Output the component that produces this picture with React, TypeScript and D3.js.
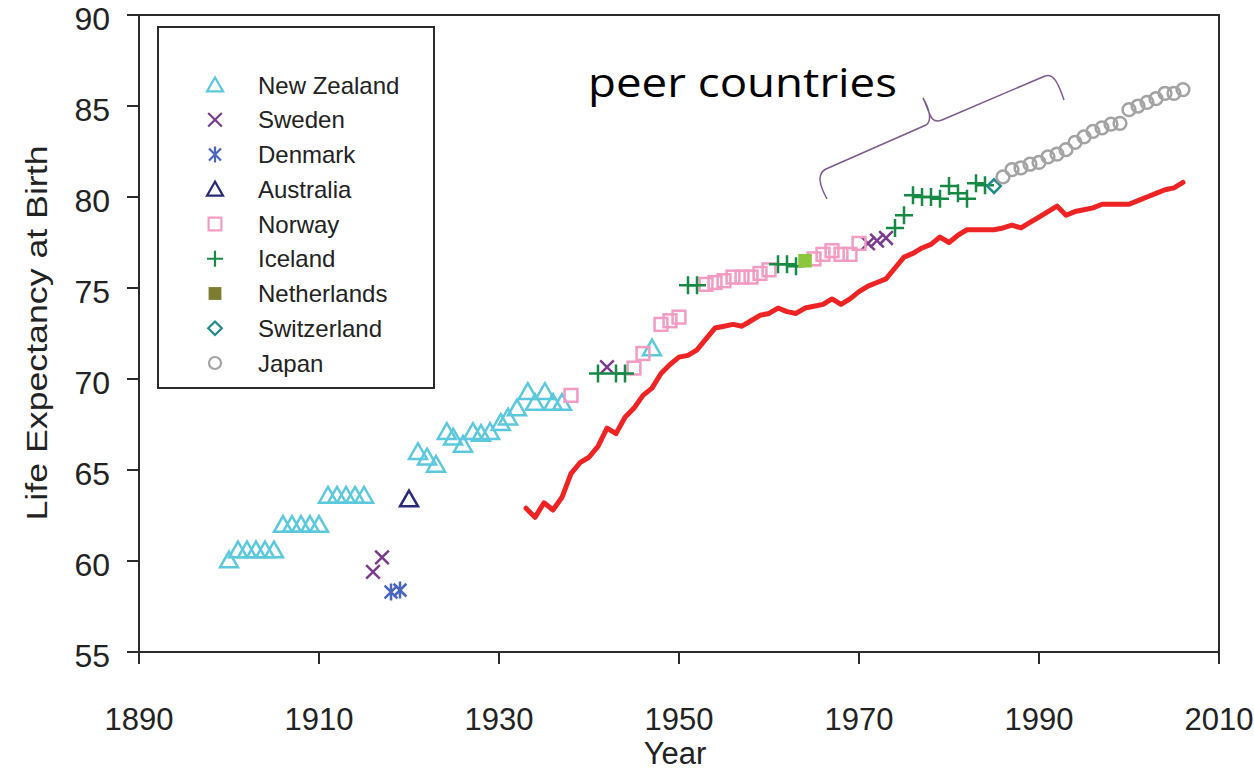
import React from "react";
import * as d3 from "d3";

// ---------- data ----------
const xTicks = [1890, 1910, 1930, 1950, 1970, 1990, 2010];
const yTicks = [55, 60, 65, 70, 75, 80, 85, 90];

const nzYears = [1900, 1901, 1902, 1903, 1904, 1905, 1906, 1907, 1908, 1909, 1910, 1911, 1912, 1913, 1914, 1915,
  1921, 1922, 1923, 1924.2, 1924.9, 1926, 1927.1, 1928, 1929, 1930.2, 1931, 1932, 1933.2, 1934, 1935.1, 1936, 1937, 1947];
const nzValues = [60.05, 60.6, 60.6, 60.6, 60.6, 60.6, 62.0, 62.0, 62.0, 62.0, 62.0, 63.6, 63.6, 63.6, 63.6, 63.6,
  66.0, 65.7, 65.3, 67.1, 66.8, 66.4, 67.1, 67.0, 67.1, 67.6, 67.9, 68.4, 69.3, 68.7, 69.3, 68.7, 68.7, 71.7];

const swedenYears = [1916, 1917, 1942, 1971, 1972, 1973];
const swedenValues = [59.4, 60.2, 70.65, 77.45, 77.6, 77.75];

const denmarkYears = [1918, 1919];
const denmarkValues = [58.3, 58.4];

const australiaYears = [1920];
const australiaValues = [63.4];

const norwayYears = [1938, 1945, 1946, 1948, 1949, 1950, 1953, 1954, 1955, 1956, 1957, 1958, 1959, 1960,
  1965, 1966, 1967, 1968, 1969, 1970];
const norwayValues = [69.1, 70.6, 71.4, 73.0, 73.2, 73.4, 75.2, 75.3, 75.4, 75.6, 75.6, 75.6, 75.8, 76.0,
  76.6, 76.85, 77.05, 76.85, 76.85, 77.45];

const icelandYears = [1941, 1943, 1944, 1951, 1952, 1961, 1962, 1963,
  1974, 1975, 1976, 1977, 1978, 1979, 1980, 1981, 1982, 1983, 1984];
const icelandValues = [70.3, 70.3, 70.3, 75.15, 75.15, 76.3, 76.3, 76.2,
  78.3, 79.0, 80.1, 80.0, 80.0, 79.9, 80.6, 80.2, 79.9, 80.75, 80.65];

const netherlandsYears = [1964];
const netherlandsValues = [76.5];

const switzerlandYears = [1985];
const switzerlandValues = [80.6];

const japanYears = [1986, 1987, 1988, 1989, 1990, 1991, 1992, 1993, 1994, 1995, 1996, 1997, 1998, 1999, 2000,
  2001, 2002, 2003, 2004, 2005, 2006];
const japanValues = [81.1, 81.5, 81.6, 81.8, 81.9, 82.2, 82.35, 82.6, 83.0, 83.3, 83.6, 83.8, 84.0, 84.05, 84.8,
  85.0, 85.2, 85.4, 85.7, 85.7, 85.9];

const usYears = [1933, 1934, 1935, 1936, 1937, 1938, 1939, 1940, 1941, 1942, 1943, 1944, 1945, 1946, 1947, 1948,
  1949, 1950, 1951, 1952, 1953, 1954, 1955, 1956, 1957, 1958, 1959, 1960, 1961, 1962, 1963, 1964, 1965, 1966,
  1967, 1968, 1969, 1970, 1971, 1972, 1973, 1974, 1975, 1976, 1977, 1978, 1979, 1980, 1981, 1982, 1983, 1984,
  1985, 1986, 1987, 1988, 1989, 1990, 1991, 1992, 1993, 1994, 1995, 1996, 1997, 1998, 1999, 2000, 2001, 2002,
  2003, 2004, 2005, 2006];
const usValues = [62.9, 62.4, 63.2, 62.8, 63.5, 64.8, 65.4, 65.7, 66.3, 67.3, 67.0, 67.9, 68.4, 69.1, 69.5, 70.3,
  70.8, 71.2, 71.3, 71.6, 72.2, 72.8, 72.9, 73.0, 72.9, 73.2, 73.5, 73.6, 73.9, 73.7, 73.6, 73.9, 74.0, 74.1,
  74.4, 74.1, 74.4, 74.8, 75.1, 75.3, 75.5, 76.1, 76.7, 76.9, 77.2, 77.4, 77.8, 77.5, 77.9, 78.2, 78.2, 78.2,
  78.2, 78.3, 78.45, 78.3, 78.6, 78.9, 79.2, 79.5, 79.0, 79.2, 79.3, 79.4, 79.6, 79.6, 79.6, 79.6, 79.8, 80.0,
  80.2, 80.4, 80.5, 80.8];

const legendNames = ["New Zealand", "Sweden", "Denmark", "Australia", "Norway", "Iceland", "Netherlands", "Switzerland", "Japan"];
const legendShapes = ["triangle", "x", "asterisk", "triangle", "square", "plus", "filledSquare", "diamond", "circle"];
const legendColors = ["#5cc8dc", "#7a3b8c", "#4a66bd", "#2a2a78", "#f29bc3", "#168a45", "#7d7d32", "#1f8a8a", "#a3a3a3"];

// ---------- helpers ----------
const W = 1254;
const H = 771;
const x = d3.scaleLinear().domain([1890, 2010]).range([139, 1219]);
const y = d3.scaleLinear().domain([55, 90]).range([652, 15]);

function Marker({ shape, cx, cy, s, color, sw = 2.5 }: any) {
  const h = s / 2;
  if (shape === "triangle") {
    const p = d3.path();
    p.moveTo(cx, cy - h * 0.95);
    p.lineTo(cx + h, cy + h * 0.8);
    p.lineTo(cx - h, cy + h * 0.8);
    p.closePath();
    return <path d={p.toString()} fill="none" stroke={color} strokeWidth={sw} strokeLinejoin="miter" />;
  }
  if (shape === "x") {
    const k = h * 0.85;
    return <path d={`M${cx - k},${cy - k}L${cx + k},${cy + k}M${cx - k},${cy + k}L${cx + k},${cy - k}`} stroke={color} strokeWidth={sw} fill="none" />;
  }
  if (shape === "asterisk") {
    const k = h * 0.75;
    return <path d={`M${cx - k},${cy - k}L${cx + k},${cy + k}M${cx - k},${cy + k}L${cx + k},${cy - k}M${cx},${cy - h}L${cx},${cy + h}`} stroke={color} strokeWidth={sw} fill="none" />;
  }
  if (shape === "plus") {
    return <path d={`M${cx - h},${cy}L${cx + h},${cy}M${cx},${cy - h}L${cx},${cy + h}`} stroke={color} strokeWidth={sw} fill="none" />;
  }
  if (shape === "square") {
    const k = h * 0.8;
    return <rect x={cx - k} y={cy - k} width={2 * k} height={2 * k} fill="none" stroke={color} strokeWidth={sw} />;
  }
  if (shape === "filledSquare") {
    const k = h * 0.8;
    return <rect x={cx - k} y={cy - k} width={2 * k} height={2 * k} fill={color} stroke="none" />;
  }
  if (shape === "diamond") {
    const k = h * 0.85;
    return <path d={`M${cx},${cy - k}L${cx + k},${cy}L${cx},${cy + k}L${cx - k},${cy}Z`} fill="none" stroke={color} strokeWidth={sw} />;
  }
  // circle
  return <circle cx={cx} cy={cy} r={h * 0.75} fill="none" stroke={color} strokeWidth={sw} />;
}

function Series({ years, values, shape, color, s = 16 }: any) {
  return (
    <g>
      {years.map((yr: number, i: number) => (
        <Marker key={i} shape={shape} cx={x(yr)} cy={y(values[i])} s={s} color={color} />
      ))}
    </g>
  );
}

export default function App() {
  const usLine = d3
    .line<number>()
    .x((_, i) => x(usYears[i]))
    .y((v) => y(v))
    .curve(d3.curveLinear)(usValues) as string;

  const font = "'Liberation Sans', Arial, Helvetica, sans-serif";
  const axisColor = "#2b2b2b";

  return (
    <svg width={W} height={H} style={{ position: "absolute", left: 0, top: 0 }} viewBox={`0 0 ${W} ${H}`}>
      <rect x={0} y={0} width={W} height={H} fill="#ffffff" />

      {/* frame */}
      <rect x={x(1890)} y={y(90)} width={x(2010) - x(1890)} height={y(55) - y(90)} fill="none" stroke={axisColor} strokeWidth={2} />

      {/* y axis ticks */}
      {yTicks.map((t) => (
        <g key={t}>
          <line x1={x(1890) - 12} x2={x(1890)} y1={y(t)} y2={y(t)} stroke={axisColor} strokeWidth={2} />
          <text x={110} y={y(t) + 15} textAnchor="end" fontFamily={font} fontSize={32} fill="#222">
            {t}
          </text>
        </g>
      ))}
      {/* x axis ticks */}
      {xTicks.map((t) => (
        <g key={t}>
          <line x1={x(t)} x2={x(t)} y1={y(55)} y2={y(55) + 12} stroke={axisColor} strokeWidth={2} />
          <text x={x(t)} y={730} textAnchor="middle" fontFamily={font} fontSize={31} fill="#222">
            {t}
          </text>
        </g>
      ))}
      <text x={675} y={764} textAnchor="middle" fontFamily={font} fontSize={31} fill="#222">
        Year
      </text>
      <text
        transform={`translate(37,333) rotate(-90)`}
        textAnchor="middle"
        dominantBaseline="central"
        fontFamily={font}
        fontSize={29}
        fill="#222"
        textLength={375}
        lengthAdjust="spacingAndGlyphs"
      >
        Life Expectancy at Birth
      </text>

      {/* data */}
      <Series years={nzYears} values={nzValues} shape="triangle" color={legendColors[0]} s={18} />
      <Series years={swedenYears} values={swedenValues} shape="x" color={legendColors[1]} s={16} />
      <Series years={denmarkYears} values={denmarkValues} shape="asterisk" color={legendColors[2]} s={17} />
      <Series years={australiaYears} values={australiaValues} shape="triangle" color={legendColors[3]} s={18} />
      <Series years={norwayYears} values={norwayValues} shape="square" color={legendColors[4]} s={16} />
      <Series years={icelandYears} values={icelandValues} shape="plus" color={legendColors[5]} s={18} />
      <Series years={netherlandsYears} values={netherlandsValues} shape="filledSquare" color="#8cc63f" s={17} />
      <Series years={switzerlandYears} values={switzerlandValues} shape="diamond" color={legendColors[7]} s={16} />
      <Series years={japanYears} values={japanValues} shape="circle" color={legendColors[8]} s={17} />

      <path d={usLine} fill="none" stroke="#ee2424" strokeWidth={5} strokeLinejoin="round" strokeLinecap="round" />

      {/* legend */}
      <rect x={158} y={27} width={276} height={361} fill="#fff" stroke={axisColor} strokeWidth={2} />
      {legendNames.map((name, i) => {
        const cy = 85 + i * 34.75;
        return (
          <g key={name}>
            <Marker shape={legendShapes[i]} cx={215} cy={cy} s={16} color={legendColors[i]} sw={2.2} />
            <text x={258} y={cy + 8.5} fontFamily={font} fontSize={24} fill="#222">
              {name}
            </text>
          </g>
        );
      })}

      {/* annotation */}
      <text x={588} y={97} fontFamily="'Open Sans', 'Noto Sans', sans-serif" fontSize={40} fill="#000" textLength={309} lengthAdjust="spacingAndGlyphs">
        peer countries
      </text>
      <path
        d="M827,199 C820,186 816,174 826,169 L926,125 C932,121 930,110 923,98 M923,98 C930,112 930,125 942,120 L1045,76 C1053,73 1058,82 1064,100"
        fill="none"
        stroke="#7d5a8c"
        strokeWidth={1.5}
      />
    </svg>
  );
}
